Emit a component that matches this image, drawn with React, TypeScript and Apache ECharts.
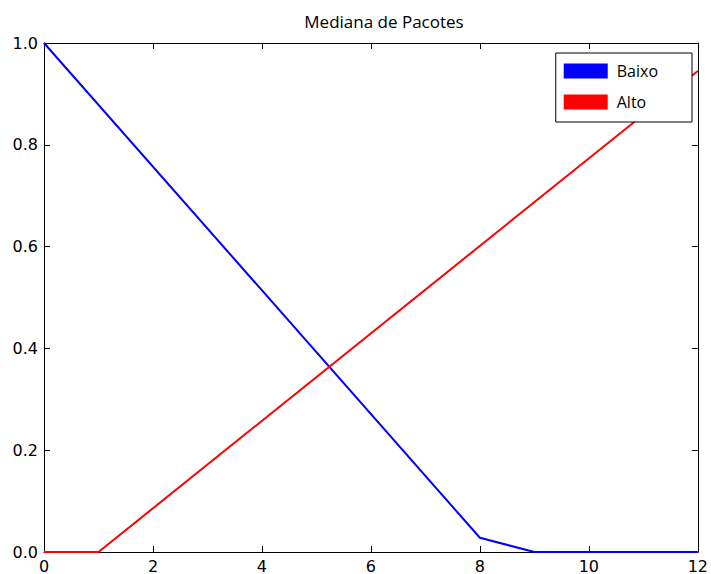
import React, { useEffect, useRef } from "react";
import * as echarts from "echarts";

const seriesNames = ["Baixo", "Alto"];
const baixoPoints: [number, number][] = [[0, 1.0], [8, 0.028], [9, 0], [12, 0]];
const altoPoints: [number, number][] = [[0, 0], [1, 0], [12, 0.945]];
const xTicks = { min: 0, max: 12, interval: 2 };
const yTicks = { min: 0, max: 1, interval: 0.2 };
const colors = ["#0000ff", "#ff0000"];

export default function App() {
  const ref = useRef<HTMLDivElement>(null);
  useEffect(() => {
    document.body.style.margin = "0";
    const chart = echarts.init(ref.current!, null, { renderer: "svg" });
    const tickFont = { fontFamily: "DejaVu Sans", fontSize: 16, color: "#000" };
    const axisLine = { show: true, onZero: false, lineStyle: { color: "#000", width: 1 } };
    const tick = { show: true, inside: true, length: 6, lineStyle: { color: "#000" } };
    chart.setOption({
      animation: false,
      backgroundColor: "#fff",
      title: {
        text: "Mediana de Pacotes",
        left: 379,
        top: 8,
        textAlign: "center",
        textStyle: { fontFamily: "Open Sans", fontSize: 17, fontWeight: "normal", color: "#000" },
      },
      legend: {
        data: seriesNames.map((n) => ({ name: n, icon: "rect" })),
        orient: "vertical",
        right: 19,
        top: 53,
        width: 136,
        itemWidth: 44,
        itemHeight: 15,
        itemGap: 15,
        padding: [10, 34, 12, 8],
        borderColor: "#000",
        borderWidth: 1,
        backgroundColor: "#fff",
        textStyle: { fontFamily: "Open Sans", fontSize: 16, color: "#000", padding: [0, 0, 0, 4] },
      },
      grid: { left: 44, right: 9, top: 43, bottom: 22, containLabel: false },
      xAxis: [
        {
          type: "value",
          ...xTicks,
          axisLine,
          axisTick: tick,
          axisLabel: { ...tickFont, margin: 6 },
          splitLine: { show: false },
        },
        {
          type: "value",
          position: "top",
          ...xTicks,
          axisLine,
          axisTick: tick,
          axisLabel: { show: false },
          splitLine: { show: false },
        },
      ],
      yAxis: [
        {
          type: "value",
          ...yTicks,
          axisLine,
          axisTick: tick,
          axisLabel: { ...tickFont, margin: 6, formatter: (v: number) => v.toFixed(1) },
          splitLine: { show: false },
        },
        {
          type: "value",
          position: "right",
          ...yTicks,
          axisLine,
          axisTick: tick,
          axisLabel: { show: false },
          splitLine: { show: false },
        },
      ],
      series: [
        {
          name: seriesNames[0],
          type: "line",
          data: baixoPoints,
          showSymbol: false,
          color: colors[0],
          lineStyle: { width: 2, color: colors[0] },
        },
        {
          name: seriesNames[1],
          type: "line",
          data: altoPoints,
          showSymbol: false,
          color: colors[1],
          lineStyle: { width: 2, color: colors[1] },
        },
      ],
    });
    return () => chart.dispose();
  }, []);
  return <div ref={ref} style={{ width: 711, height: 574 }} />;
}
